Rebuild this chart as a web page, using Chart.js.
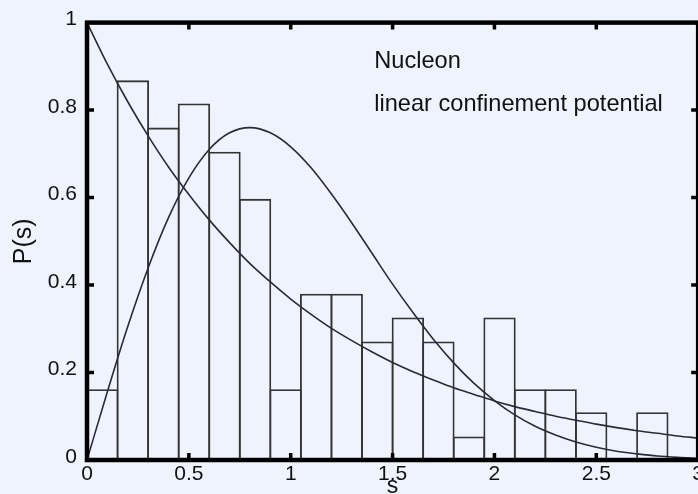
<!DOCTYPE html>
<html>
<head>
<meta charset="utf-8">
<script src="https://cdn.jsdelivr.net/npm/chart.js@4/dist/chart.umd.min.js"></script>
<style>
  html, body { margin: 0; padding: 0; overflow: hidden; background: #eef3fd; width: 698px; height: 494px; }
  #wrap { position: absolute; left: 0; top: 0; width: 706px; height: 494px; }
  canvas { display: block; background: #eef3fd; }
</style>
</head>
<body>
<div id="wrap"><canvas id="c" width="706" height="494"></canvas></div>
<script>
// ---- Data ----
const binCenters = [0.075, 0.225, 0.375, 0.525, 0.675, 0.825, 0.975, 1.125, 1.275, 1.425,
                    1.575, 1.725, 1.875, 2.025, 2.175, 2.325, 2.475, 2.625, 2.775];
const binHeights = [0.162, 0.868, 0.760, 0.815, 0.705, 0.597, 0.162, 0.380, 0.380, 0.271,
                    0.326, 0.271, 0.054, 0.326, 0.162, 0.162, 0.109, 0.000, 0.109];

const sGrid = [0.0, 0.1, 0.2, 0.3, 0.4, 0.5, 0.6, 0.7, 0.8, 0.9, 1.0, 1.1, 1.2, 1.3, 1.4, 1.5,
               1.6, 1.7, 1.8, 1.9, 2.0, 2.1, 2.2, 2.3, 2.4, 2.5, 2.6, 2.7, 2.8, 2.9, 3.0];
const poissonCurve = [1.000, 0.905, 0.819, 0.741, 0.670, 0.607, 0.549, 0.497, 0.449, 0.407, 0.368,
                      0.333, 0.301, 0.273, 0.247, 0.223, 0.202, 0.183, 0.165, 0.150, 0.135,
                      0.122, 0.111, 0.100, 0.091, 0.082, 0.074, 0.067, 0.061, 0.055, 0.050];
const wignerCurve = [0.000, 0.156, 0.305, 0.439, 0.554, 0.645, 0.710, 0.748, 0.760, 0.748, 0.716,
                     0.668, 0.608, 0.542, 0.472, 0.402, 0.337, 0.276, 0.222, 0.175, 0.136,
                     0.103, 0.077, 0.057, 0.041, 0.029, 0.020, 0.014, 0.009, 0.006, 0.004];

const xTickLabels = ["0", "0.5", "1", "1.5", "2", "2.5", "3"];
const yTickLabels = ["0", "0.2", "0.4", "0.6", "0.8", "1"];
const annotationLines = ["Nucleon", "linear confinement potential"];

const FONT = "'Liberation Sans', Arial, Helvetica, sans-serif";
const INK = '#111111';
const BAR_BORDER = 1.8;

const toXY = (xs, ys) => xs.map((x, i) => ({ x: x, y: ys[i] }));

const framePlugin = {
  id: 'frame',
  afterDraw(chart) {
    const { ctx, chartArea: { left, right, top, bottom }, scales: { x, y } } = chart;
    ctx.save();
    ctx.strokeStyle = '#000';
    ctx.lineWidth = 3.5;
    ctx.lineCap = 'butt';
    const tl = 7;
    x.ticks.forEach(t => {
      if (t.value <= x.min || t.value >= x.max) return;
      const px = x.getPixelForValue(t.value);
      ctx.beginPath();
      ctx.moveTo(px, bottom); ctx.lineTo(px, bottom - tl);
      ctx.moveTo(px, top); ctx.lineTo(px, top + tl);
      ctx.stroke();
    });
    y.ticks.forEach(t => {
      if (t.value <= y.min || t.value >= y.max) return;
      const py = y.getPixelForValue(t.value);
      ctx.beginPath();
      ctx.moveTo(left, py); ctx.lineTo(left + tl, py);
      ctx.moveTo(right, py); ctx.lineTo(right - tl, py);
      ctx.stroke();
    });
    ctx.lineWidth = 4.5;
    ctx.strokeRect(left, top, right - left, bottom - top);

    // annotation text
    ctx.fillStyle = INK;
    ctx.font = "23.6px " + FONT;
    ctx.textAlign = 'left';
    ctx.textBaseline = 'alphabetic';
    const ax = x.getPixelForValue(1.41);
    ctx.fillText(annotationLines[0], ax, 68);
    ctx.fillText(annotationLines[1], ax, 111);
    ctx.restore();
  }
};

new Chart(document.getElementById('c'), {
  data: {
    datasets: [
      {
        type: 'bar',
        label: 'histogram',
        data: toXY(binCenters, binHeights),
        backgroundColor: 'rgba(0,0,0,0)',
        borderColor: '#333333',
        borderWidth: BAR_BORDER,
        borderSkipped: 'start',
        // bars overlap by one border width so shared edges are drawn once
        barPercentage: 1.058,
        categoryPercentage: 1.0,
        order: 2
      },
      {
        type: 'line',
        label: 'Poisson',
        data: toXY(sGrid, poissonCurve),
        borderColor: '#2a2a3a',
        borderWidth: 1.6,
        pointRadius: 0,
        fill: false,
        cubicInterpolationMode: 'monotone',
        order: 1
      },
      {
        type: 'line',
        label: 'Wigner',
        data: toXY(sGrid, wignerCurve),
        borderColor: '#2a2a3a',
        borderWidth: 1.6,
        pointRadius: 0,
        fill: false,
        cubicInterpolationMode: 'monotone',
        order: 1
      }
    ]
  },
  options: {
    responsive: false,
    animation: false,
    devicePixelRatio: 1,
    layout: { padding: { left: 0, right: 3, top: 19, bottom: 0 } },
    plugins: { legend: { display: false }, tooltip: { enabled: false } },
    scales: {
      x: {
        type: 'linear',
        min: 0, max: 3,
        offset: false,
        grid: { display: false, drawTicks: false, offset: false },
        border: { display: false },
        ticks: {
          stepSize: 0.5,
          padding: 2,
          color: INK,
          font: { family: FONT, size: 21 },
          maxRotation: 0,
          autoSkip: false,
          callback: (v, i) => xTickLabels[i]
        },
        title: {
          display: true,
          text: 's',
          color: INK,
          font: { family: FONT, size: 23, lineHeight: 1 },
          padding: { top: 0, bottom: -4 }
        },
        afterFit: s => { s.height = 34; }
      },
      y: {
        type: 'linear',
        min: 0, max: 1,
        grid: { display: false, drawTicks: false },
        border: { display: false },
        ticks: {
          stepSize: 0.2,
          padding: 10,
          labelOffset: -3,
          color: INK,
          font: { family: FONT, size: 21 },
          autoSkip: false,
          callback: (v, i) => yTickLabels[i]
        },
        title: {
          display: true,
          text: 'P(s)',
          color: INK,
          font: { family: FONT, size: 25, lineHeight: 1 },
          padding: { top: 12, bottom: 0 }
        },
        afterFit: s => { s.width = 87; }
      }
    }
  },
  plugins: [framePlugin]
});
</script>
</body>
</html>
